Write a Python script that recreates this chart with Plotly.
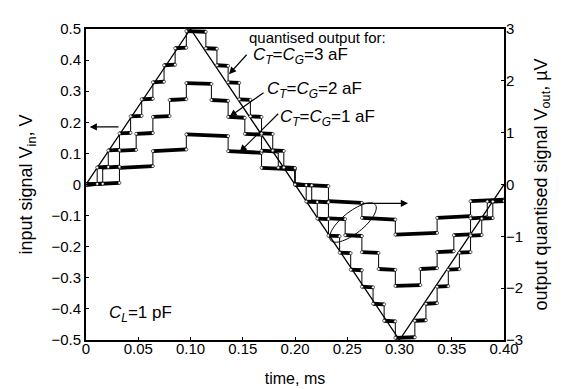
import numpy as np
import plotly.graph_objects as go

# ---------------- data ----------------
# input triangle signal (left axis, V) vs time (ms)
tri_t = [0.0, 0.1, 0.3, 0.4]
tri_v = [0.0, 0.5, -0.5, 0.0]

# quantised output, C_T=C_G=1 aF (right axis, uV): step break times, level at start / end of each flat
t_1aF = [0, 0.032, 0.064, 0.096, 0.136, 0.168, 0.2, 0.232, 0.264, 0.296, 0.336, 0.368, 0.4]
v0_1aF = [0, 0.322, 0.644, 0.966, 0.644, 0.322, 0, -0.322, -0.644, -0.966, -0.644, -0.322]
v1_1aF = [0.032, 0.354, 0.676, 0.934, 0.612, 0.29, -0.032, -0.354, -0.676, -0.934, -0.612, -0.29]

# C_T=C_G=2 aF
t_2aF = [0, 0.016, 0.032, 0.048, 0.064, 0.08, 0.096, 0.12, 0.136, 0.152, 0.168, 0.184, 0.2,
         0.216, 0.232, 0.248, 0.264, 0.28, 0.296, 0.32, 0.336, 0.352, 0.368, 0.384, 0.4]
v0_2aF = [0, 0.326, 0.652, 0.978, 1.304, 1.63, 1.956, 1.63, 1.304, 0.978, 0.652, 0.326, 0,
          -0.326, -0.652, -0.978, -1.304, -1.63, -1.956, -1.63, -1.304, -0.978, -0.652, -0.326]
v1_2aF = [0.016, 0.342, 0.668, 0.994, 1.32, 1.646, 1.94, 1.614, 1.288, 0.962, 0.636, 0.31, -0.016,
          -0.342, -0.668, -0.994, -1.32, -1.646, -1.94, -1.614, -1.288, -0.962, -0.636, -0.31]

# C_T=C_G=3 aF
t_3aF = [0, 0.0107, 0.0213, 0.032, 0.0427, 0.0533, 0.064, 0.0747, 0.0853, 0.096, 0.1147,
         0.1253, 0.136, 0.1467, 0.1573, 0.168, 0.1787, 0.1893, 0.2, 0.2107, 0.2213, 0.232,
         0.2427, 0.2533, 0.264, 0.2747, 0.2853, 0.296, 0.3147, 0.3253, 0.336, 0.3467, 0.3573,
         0.368, 0.3787, 0.3893, 0.4]
v0_3aF = [0, 0.329, 0.657, 0.986, 1.315, 1.643, 1.972, 2.301, 2.629, 2.958,
          2.629, 2.301, 1.972, 1.643, 1.315, 0.986, 0.657, 0.329, 0, -0.329, -0.657, -0.986,
          -1.315, -1.643, -1.972, -2.301, -2.629, -2.958,
          -2.629, -2.301, -1.972, -1.643, -1.315, -0.986, -0.657, -0.329]
v1_3aF = [0.011, 0.339, 0.668, 0.997, 1.325, 1.654, 1.983, 2.311, 2.64, 2.947,
          2.619, 2.29, 1.961, 1.633, 1.304, 0.975, 0.647, 0.318, -0.011, -0.339, -0.668, -0.997,
          -1.325, -1.654, -1.983, -2.311, -2.64, -2.947,
          -2.619, -2.29, -1.961, -1.633, -1.304, -0.975, -0.647, -0.318]

x_ticks = [0, 0.05, 0.1, 0.15, 0.2, 0.25, 0.3, 0.35, 0.4]
x_ticktext = ["0", "0.05", "0.10", "0.15", "0.20", "0.25", "0.30", "0.35", "0.40"]
yl_ticks = [-0.5, -0.4, -0.3, -0.2, -0.1, 0, 0.1, 0.2, 0.3, 0.4, 0.5]
yl_ticktext = ["\u22120.5", "\u22120.4", "\u22120.3", "\u22120.2", "\u22120.1", "0",
               "0.1", "0.2", "0.3", "0.4", "0.5"]
yr_ticks = [-3, -2, -1, 0, 1, 2, 3]
yr_ticktext = ["\u22123", "\u22122", "\u22121", "0", "1", "2", "3"]

# ---------------- figure ----------------
FONT = "Liberation Sans, Arial, Helvetica, sans-serif"
W, H = 563, 389
L, R, T, B = 78, 67, 19, 47
PW, PH = W - L - R, H - T - B


def px(x, y):
    return (x - L) / PW, (H - B - y) / PH


fig = go.Figure()


def add_stair(t, v0, v1):
    fx, fy, rx, ry, mx, my = [], [], [], [], [], []
    for i in range(len(v0)):
        fx += [t[i], t[i + 1], None]
        fy += [v0[i], v1[i], None]
        mx += [t[i], t[i + 1]]
        my += [v0[i], v1[i]]
        if i + 1 < len(v0):
            rx += [t[i + 1], t[i + 1], None]
            ry += [v1[i], v0[i + 1], None]
    fig.add_trace(go.Scatter(x=rx, y=ry, mode="lines", yaxis="y2",
                             line=dict(color="black", width=1), hoverinfo="skip", showlegend=False))
    fig.add_trace(go.Scatter(x=fx, y=fy, mode="lines", yaxis="y2",
                             line=dict(color="black", width=3.8), hoverinfo="skip", showlegend=False))
    fig.add_trace(go.Scatter(x=mx, y=my, mode="markers", yaxis="y2",
                             marker=dict(size=3, color="white", line=dict(color="black", width=0.6)),
                             hoverinfo="skip", showlegend=False))


add_stair(t_1aF, v0_1aF, v1_1aF)
add_stair(t_2aF, v0_2aF, v1_2aF)
add_stair(t_3aF, v0_3aF, v1_3aF)

fig.add_trace(go.Scatter(x=tri_t, y=tri_v, mode="lines", yaxis="y",
                         line=dict(color="black", width=1.3), showlegend=False))

axis_common = dict(showline=True, linecolor="black", linewidth=2, ticks="inside", ticklen=3,
                   tickcolor="black", showgrid=False, zeroline=False,
                   tickfont=dict(family=FONT, size=15, color="black"))

fig.update_layout(
    width=W, height=H,
    margin=dict(l=L, r=R, t=T, b=B),
    paper_bgcolor="white", plot_bgcolor="white",
    font=dict(family=FONT, color="black"),
    xaxis=dict(range=[0, 0.4], tickvals=x_ticks, ticktext=x_ticktext, mirror=True,
               ticklabelstandoff=-6,
               title=dict(text="time, ms", font=dict(size=16), standoff=17), **axis_common),
    yaxis=dict(range=[-0.5, 0.5], tickvals=yl_ticks, ticktext=yl_ticktext, mirror=True,
               title=dict(text="input signal V<sub>in</sub>, V", font=dict(size=18), standoff=14),
               **axis_common),
    yaxis2=dict(range=[-3, 3], tickvals=yr_ticks, ticktext=yr_ticktext, overlaying="y", side="right",
                ticklabelstandoff=-3,
                title=dict(text="output quantised signal V<sub>out</sub>, \u00b5V", font=dict(size=18),
                           standoff=12), **axis_common),
)

# ellipse (pixel geometry converted to paper coords)
cx, cy, a, b, ang = 345, 220, 29, 11, np.deg2rad(40)
th = np.linspace(0, 2 * np.pi, 60)
ex = cx + a * np.cos(th) * np.cos(ang) + b * np.sin(th) * np.sin(ang)
ey = cy - a * np.cos(th) * np.sin(ang) + b * np.sin(th) * np.cos(ang)
pts = [px(x, y) for x, y in zip(ex, ey)]
path = "M " + " L ".join(f"{p[0]:.4f},{p[1]:.4f}" for p in pts) + " Z"
fig.add_shape(type="path", path=path, xref="paper", yref="paper", line=dict(color="black", width=1))


def arrow(hx, hy, tx, ty):
    x, y = px(hx, hy)
    fig.add_annotation(x=x, y=y, xref="paper", yref="paper", ax=tx - hx, ay=ty - hy,
                       showarrow=True, arrowhead=2, arrowsize=1.2, arrowwidth=1.2,
                       arrowcolor="black", text="", standoff=0, startstandoff=0)


arrow(81.7, 120.7, 112, 120.7)
arrow(400, 200, 353, 200)
arrow(221, 66, 240, 45)
arrow(221.7, 110, 257, 85)
arrow(231.7, 146.7, 271.7, 107)


def label(x, y, text, size=17):
    xx, yy = px(x, y)
    fig.add_annotation(x=xx, y=yy, xref="paper", yref="paper", text=text, showarrow=False,
                       xanchor="left", yanchor="middle", font=dict(family=FONT, size=size, color="black"))


label(239, 28, "quantised output for:", 15)
label(243, 47, "<i>C</i><sub><i>T</i></sub>=<i>C</i><sub><i>G</i></sub>=3 aF")
label(257, 82, "<i>C</i><sub><i>T</i></sub>=<i>C</i><sub><i>G</i></sub>=2 aF")
label(270, 111, "<i>C</i><sub><i>T</i></sub>=<i>C</i><sub><i>G</i></sub>=1 aF")
label(99, 315, "<i>C</i><sub><i>L</i></sub>=1 pF")

fig.write_html("out.html")
